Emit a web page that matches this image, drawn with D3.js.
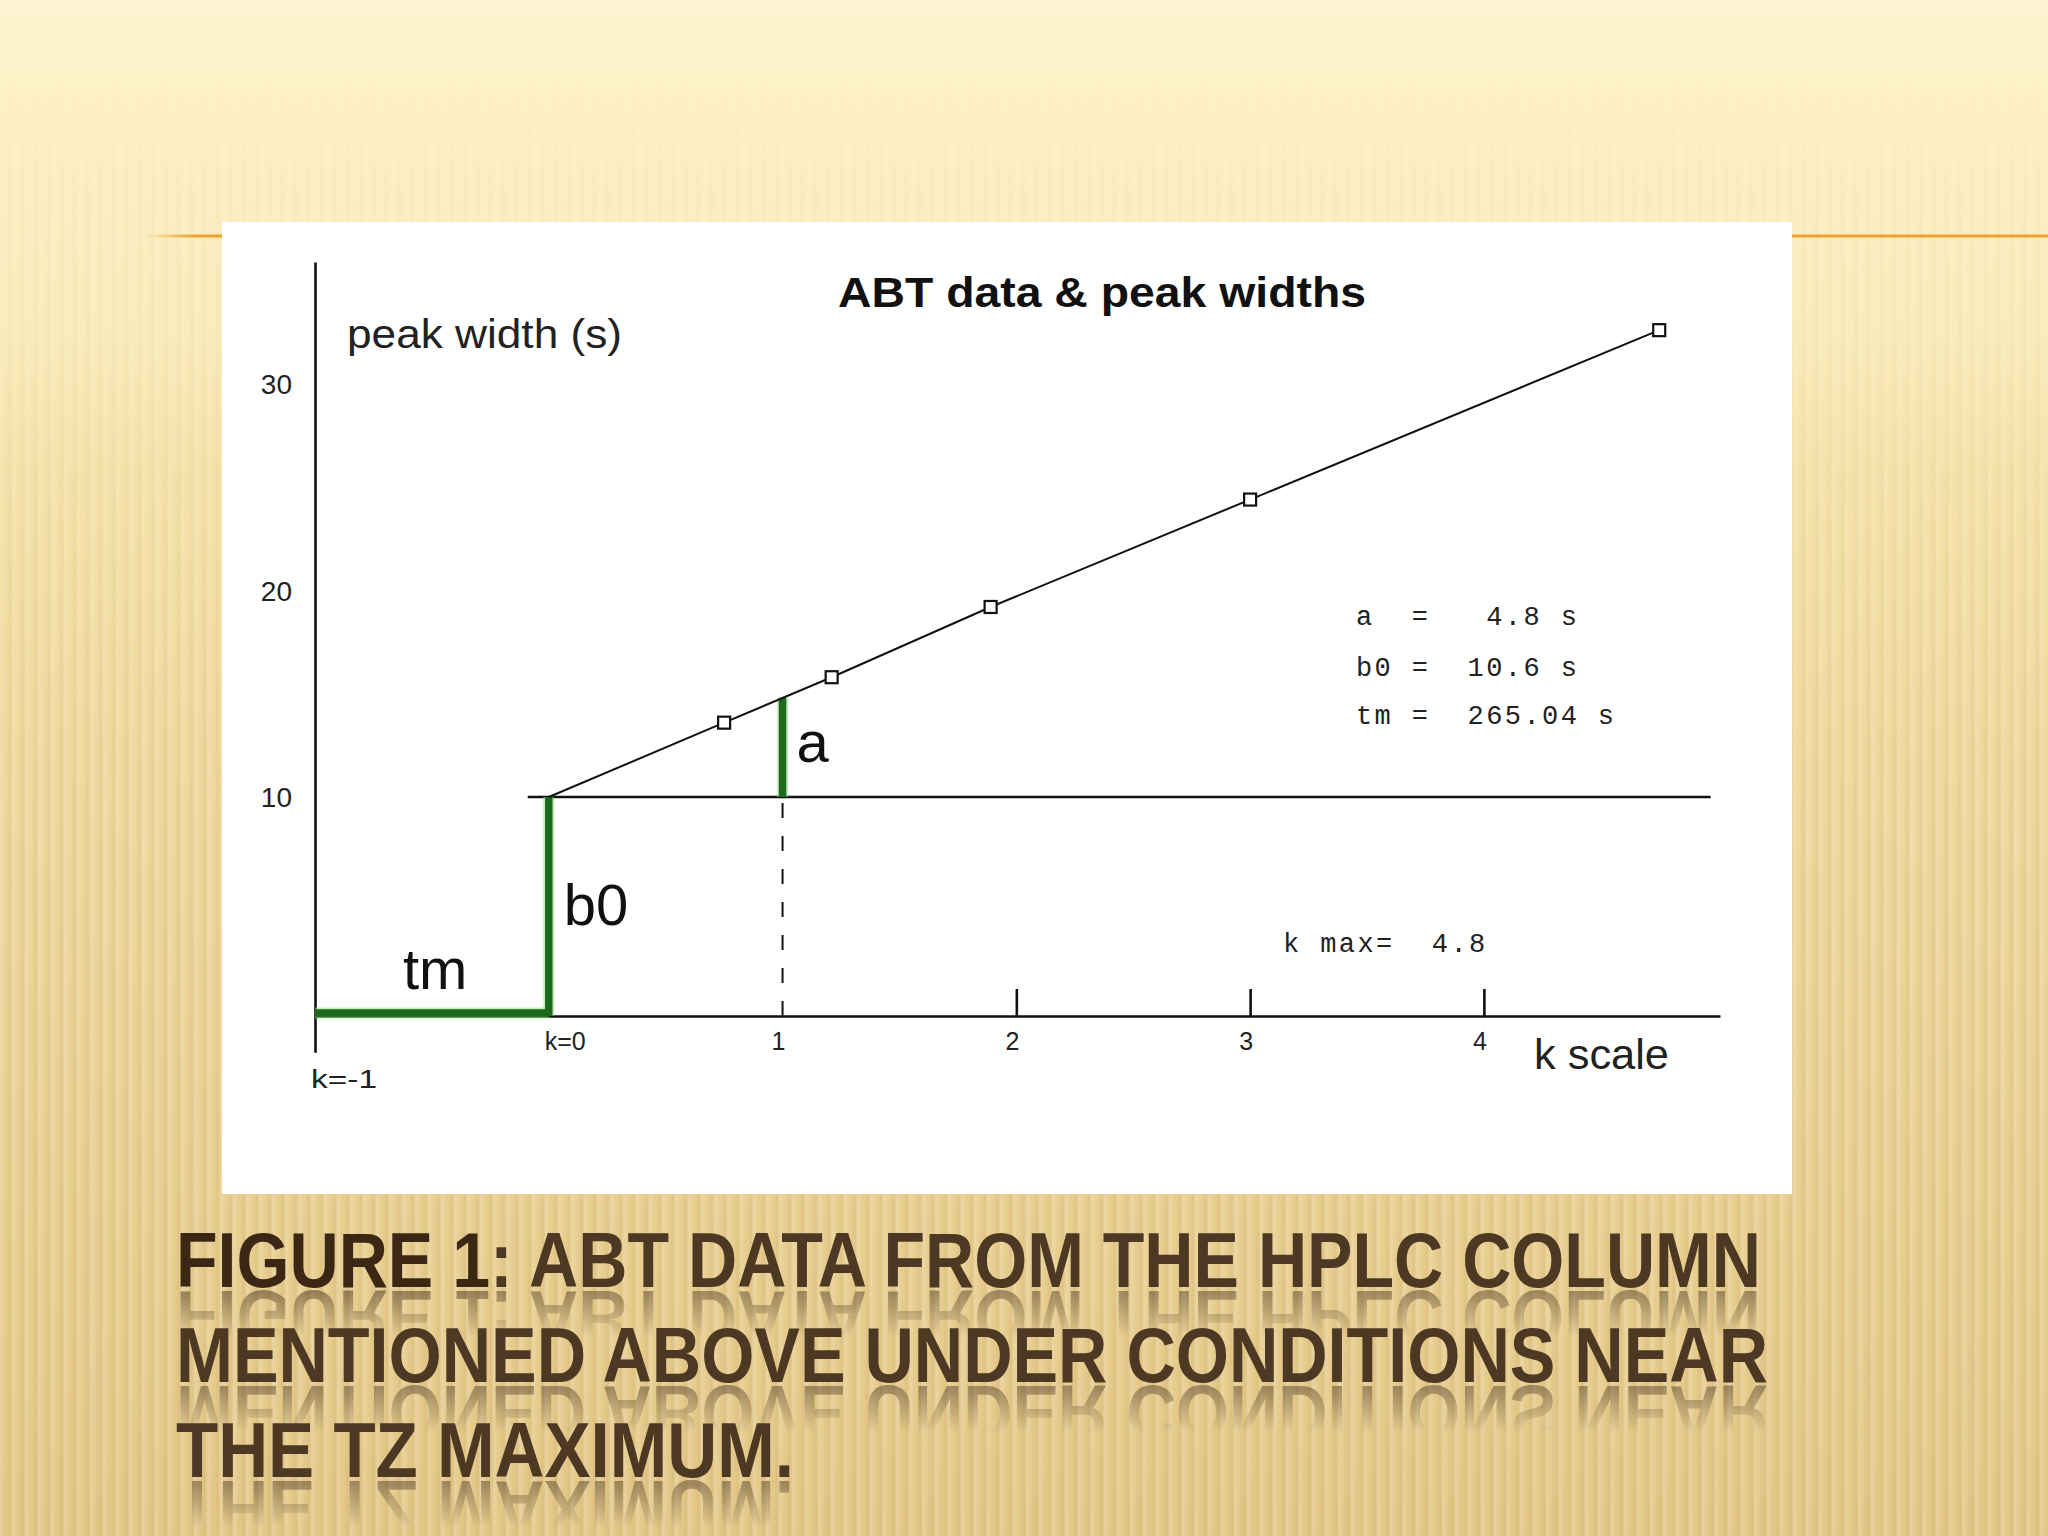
<!DOCTYPE html>
<html><head><meta charset="utf-8">
<script src="https://cdn.jsdelivr.net/npm/d3@7"></script>
<style>html,body{margin:0;padding:0;background:#fcf0c6;} svg{display:block;}</style>
</head><body>
<svg id="c" width="2048" height="1536" xmlns:xlink="http://www.w3.org/1999/xlink"></svg>
<script>
// ---------------- data ----------------
const chartTitle = "ABT data & peak widths";
const yAxisLabel = "peak width (s)";
const xAxisLabel = "k scale";
const kValues = [0.75, 1.21, 1.89, 3.00, 4.75];
const peakWidths = [14.2, 16.4, 19.8, 25.0, 33.2];
const paramNames = ["a", "b0", "tm"];
const paramValues = [4.8, 10.6, 265.04];
const paramDecimals = [1, 1, 2];
const kMax = 4.8;
const yTicks = [10, 20, 30];
const xTickValues = [-1, 0, 1, 2, 3, 4];
const xTickLabels = ["k=-1", "k=0", "1", "2", "3", "4"];
const segmentLabels = ["tm", "b0", "a"];
const captionBold = "FIGURE 1";
const captionLines = [
  ": ABT DATA FROM THE HPLC COLUMN",
  "MENTIONED ABOVE UNDER CONDITIONS NEAR",
  "THE TZ MAXIMUM."
];

const a = paramValues[0], b0 = paramValues[1];

// ---------------- page ----------------
const svg = d3.select("#c");
const defs = svg.append("defs");

// background gradient
const bgG = defs.append("linearGradient").attr("id", "bgGrad")
  .attr("x1", 0).attr("y1", 0).attr("x2", 0).attr("y2", 1);
[[0, "#fdf3d1"], [0.05, "#fdf1c8"], [0.22, "#faebbb"], [0.3, "#f6e3ab"],
 [0.5, "#efd89c"], [0.75, "#e9cf90"], [1, "#e3c787"]]
  .forEach(([o, c]) => bgG.append("stop").attr("offset", o).attr("stop-color", c));

// soft vertical stripes
const sg = defs.append("linearGradient").attr("id", "stripeGrad")
  .attr("x1", 0).attr("y1", 0).attr("x2", 1).attr("y2", 0);
[[0, "#ffffff", 0.2], [0.4, "#ffffff", 0.0], [0.7, "#9a7328", 0.09], [1, "#ffffff", 0.2]]
  .forEach(([o, c, op]) => sg.append("stop").attr("offset", o).attr("stop-color", c).attr("stop-opacity", op));
const pat = defs.append("pattern").attr("id", "stripes")
  .attr("patternUnits", "userSpaceOnUse").attr("width", 13).attr("height", 40);
pat.append("rect").attr("width", 13).attr("height", 40).attr("fill", "url(#stripeGrad)");

const smG = defs.append("linearGradient").attr("id", "stripeFade")
  .attr("gradientUnits", "userSpaceOnUse").attr("x1", 0).attr("y1", 0).attr("x2", 0).attr("y2", 1536);
[[0, 0], [0.045, 0], [0.13, 0.3], [0.3, 0.55], [0.55, 1], [1, 1]]
  .forEach(([o, v]) => smG.append("stop").attr("offset", o).attr("stop-color", "#fff").attr("stop-opacity", v));
defs.append("mask").attr("id", "stripeMask").attr("maskUnits", "userSpaceOnUse")
  .attr("x", 0).attr("y", 0).attr("width", 2048).attr("height", 1536)
  .append("rect").attr("width", 2048).attr("height", 1536).attr("fill", "url(#stripeFade)");

svg.append("rect").attr("width", 2048).attr("height", 1536).attr("fill", "url(#bgGrad)");
svg.append("rect").attr("width", 2048).attr("height", 1536).attr("fill", "url(#stripes)")
  .attr("mask", "url(#stripeMask)");

// orange rule
const orG = defs.append("linearGradient").attr("id", "orangeFade")
  .attr("gradientUnits", "userSpaceOnUse").attr("x1", 145).attr("y1", 0).attr("x2", 195).attr("y2", 0);
orG.append("stop").attr("offset", 0).attr("stop-color", "#eaa42e").attr("stop-opacity", 0);
orG.append("stop").attr("offset", 1).attr("stop-color", "#eaa42e").attr("stop-opacity", 1);
svg.append("line").attr("x1", 145).attr("x2", 2048).attr("y1", 236).attr("y2", 236)
  .attr("stroke", "url(#orangeFade)").attr("stroke-width", 3);

// white chart panel
svg.append("rect").attr("x", 222).attr("y", 222).attr("width", 1570).attr("height", 972).attr("fill", "#ffffff");

// ---------------- chart ----------------
const x = d3.scaleLinear().domain([-1, 5.01]).range([315, 1720]);
const y = d3.scaleLinear().domain([0, 36.5]).range([1016, 262]);
const g = svg.append("g");
const sans = "'Liberation Sans', Arial, Helvetica, sans-serif";
const mono = "'Liberation Mono', 'DejaVu Sans Mono', monospace";

// x axis (baseline + upward ticks)
const xAxis = d3.axisBottom(x).tickValues(xTickValues.filter(v => v >= 2))
  .tickSizeInner(-27).tickSizeOuter(0).tickFormat("");
const xa = g.append("g").attr("transform", `translate(0,${y(0)})`).call(xAxis);
xa.selectAll("path,line").attr("stroke", "#111").attr("stroke-width", 2.6);

// y axis line (extends below baseline as the k=-1 tick)
const yAxisScale = y.copy().domain([-1.75, 36.5]).range([y(-1.75), y(36.5)]);
const ya = g.append("g").attr("transform", `translate(${x(-1)},0)`)
  .call(d3.axisLeft(yAxisScale).tickValues([]).tickSizeOuter(0));
ya.selectAll("path").attr("stroke", "#111").attr("stroke-width", 2.6);

// y tick labels
g.selectAll("text.ytick").data(yTicks).join("text").attr("class", "ytick")
  .attr("x", 292).attr("y", d => y(d) - 2).attr("text-anchor", "end")
  .attr("font-family", sans).attr("font-size", 28).attr("fill", "#222").text(d => d);

// x tick labels
g.selectAll("text.xtick").data(xTickValues).join("text").attr("class", "xtick")
  .attr("x", d => x(d) - 4)
  .attr("y", d => d === -1 ? 1088 : 1050)
  .attr("text-anchor", d => d < 1 ? "start" : "middle")
  .attr("font-family", sans).attr("font-size", 25).attr("fill", "#222")
  .each(function (d) { if (d === -1) d3.select(this).attr("textLength", 66).attr("lengthAdjust", "spacingAndGlyphs"); })
  .text((d, i) => xTickLabels[i]);

// horizontal b0 reference line
g.append("line").attr("x1", x(-0.09)).attr("x2", x(4.97)).attr("y1", y(b0)).attr("y2", y(b0))
  .attr("stroke", "#111").attr("stroke-width", 2.6);

// dashed vertical at k=1
g.append("line").attr("x1", x(1)).attr("x2", x(1)).attr("y1", y(b0)).attr("y2", y(0))
  .attr("stroke", "#111").attr("stroke-width", 2).attr("stroke-dasharray", "15,18")
  .attr("stroke-dashoffset", -6);

// green segments: tm (k=-1..0 at 0), b0 (k=0, 0..b0), a (k=1, b0..b0+a)
const segs = [
  [[-1, 0.15], [0, 0.15]],
  [[0, 0], [0, b0]],
  [[1, b0], [1, b0 + a]]
];
const segLine = d3.line().x(d => x(d[0])).y(d => y(d[1]));
g.selectAll("path.seghalo").data(segs).join("path").attr("class", "seghalo")
  .attr("d", segLine).attr("stroke", "#8fe07c").attr("stroke-width", 11).attr("fill", "none")
  .attr("opacity", 0.55);
g.selectAll("path.seg").data(segs).join("path").attr("class", "seg")
  .attr("d", segLine).attr("stroke", "#1d6a1f").attr("stroke-width", 7.5).attr("fill", "none");

// data line from (0,b0) through the measured points
const pts = [[0, b0]].concat(kValues.map((k, i) => [k, peakWidths[i]]));
g.append("path").attr("d", d3.line().x(d => x(d[0])).y(d => y(d[1]))(pts))
  .attr("fill", "none").attr("stroke", "#111").attr("stroke-width", 2);

// square markers
g.selectAll("rect.pt").data(kValues).join("rect").attr("class", "pt")
  .attr("x", d => x(d) - 6).attr("y", (d, i) => y(peakWidths[i]) - 6)
  .attr("width", 12).attr("height", 12).attr("fill", "#fff").attr("stroke", "#111").attr("stroke-width", 2.2);

// segment labels
const segLabelPos = [[x(-1) + 88, 989], [x(0) + 15, 925], [x(1) + 14, 762]];
g.selectAll("text.seglab").data(segmentLabels).join("text").attr("class", "seglab")
  .attr("x", (d, i) => segLabelPos[i][0]).attr("y", (d, i) => segLabelPos[i][1])
  .attr("font-family", sans).attr("font-size", 58).attr("fill", "#111").text(d => d);

// title and axis labels
g.append("text").attr("x", 838).attr("y", 307).attr("textLength", 528).attr("lengthAdjust", "spacingAndGlyphs")
  .attr("font-family", sans).attr("font-weight", "bold").attr("font-size", 43).attr("fill", "#111").text(chartTitle);
g.append("text").attr("x", 347).attr("y", 348).attr("textLength", 275).attr("lengthAdjust", "spacingAndGlyphs")
  .attr("font-family", sans).attr("font-size", 40).attr("fill", "#222").text(yAxisLabel);
g.append("text").attr("x", 1534).attr("y", 1069).attr("textLength", 135).attr("lengthAdjust", "spacingAndGlyphs")
  .attr("font-family", sans).attr("font-size", 43).attr("fill", "#222").text(xAxisLabel);

// parameter block
const paramRows = paramNames.map((n, i) => {
  const s = paramValues[i].toFixed(paramDecimals[i]);
  return n.padEnd(3) + "=" + s.padStart(Math.max(6, s.length + 2)) + " s";
});
const rowBaselines = [625, 676, 724];
g.selectAll("text.param").data(paramRows).join("text").attr("class", "param")
  .attr("x", 1356).attr("y", (d, i) => rowBaselines[i])
  .attr("font-family", mono).attr("font-size", 27).attr("letter-spacing", 2.4)
  .attr("fill", "#222").style("white-space", "pre").text(d => d);
g.append("text").attr("x", 1283).attr("y", 952)
  .attr("font-family", mono).attr("font-size", 27).attr("letter-spacing", 2.4)
  .attr("fill", "#222").style("white-space", "pre").text("k max=  " + kMax.toFixed(1));

// ---------------- caption with reflection ----------------
const capBase = [1287, 1382, 1477];
const capLen = [1585, 1592, 618];
const capX = 176;
const capFont = "'Liberation Sans', Arial, sans-serif";
const fadeG = defs.append("linearGradient").attr("id", "reflFade")
  .attr("x1", 0).attr("y1", 0).attr("x2", 0).attr("y2", 1);
fadeG.append("stop").attr("offset", 0).attr("stop-color", "#fff").attr("stop-opacity", 0.5);
fadeG.append("stop").attr("offset", 1).attr("stop-color", "#fff").attr("stop-opacity", 0);

const capG = svg.append("g");
captionLines.forEach((line, i) => {
  const b = capBase[i];
  const t = capG.append("text").attr("id", "cap" + i).attr("x", capX).attr("y", b)
    .attr("textLength", capLen[i]).attr("lengthAdjust", "spacingAndGlyphs")
    .attr("font-family", capFont).attr("font-weight", "bold").attr("font-size", 77)
    .attr("fill", "#4d3823");
  if (i === 0) {
    t.append("tspan").attr("fill", "#3b2714").text(captionBold);
    t.append("tspan").text(line);
  } else {
    t.text(line);
  }
  // mirrored reflection (a <use> of the same text, faded out)
  defs.append("mask").attr("id", "rm" + i).attr("maskUnits", "userSpaceOnUse")
    .attr("x", 0).attr("y", b).attr("width", 2048).attr("height", 60)
    .append("rect").attr("x", 0).attr("y", b + 2).attr("width", 2048).attr("height", 48)
    .attr("fill", "url(#reflFade)");
  svg.insert("g", () => capG.node()).attr("mask", `url(#rm${i})`)
    .append("use").attr("href", "#cap" + i)
    .attr("transform", `translate(0,${2 * b + 4}) scale(1,-1)`);
});
</script>
</body></html>
